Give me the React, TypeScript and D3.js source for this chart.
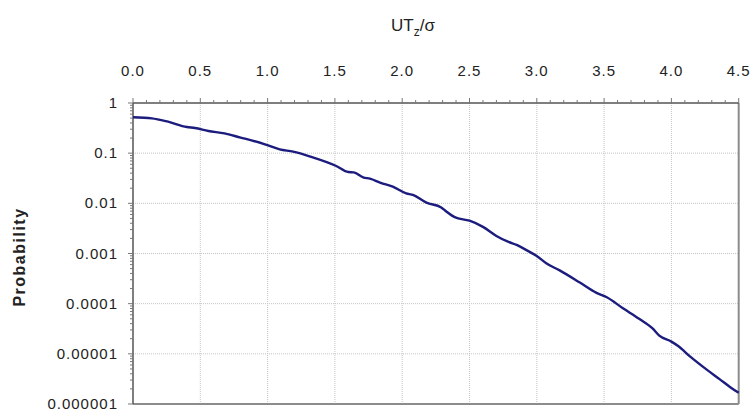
import React from "react";
import * as d3 from "d3";

const xValues = [0, 0.14, 0.26, 0.40, 0.46, 0.56, 0.68, 0.80, 0.88, 0.98, 1.09, 1.19, 1.32, 1.51, 1.60, 1.64, 1.71, 1.76, 1.84, 1.93, 2.03, 2.08, 2.18, 2.29, 2.33, 2.39, 2.50, 2.60, 2.70, 2.79, 2.85, 2.93, 3.00, 3.07, 3.17, 3.32, 3.44, 3.52, 3.64, 3.76, 3.86, 3.91, 4.00, 4.05, 4.14, 4.26, 4.36, 4.44, 4.50];
const probValues = [0.52, 0.495, 0.424, 0.332, 0.318, 0.277, 0.248, 0.204, 0.18, 0.15, 0.119, 0.107, 0.085, 0.0555, 0.042, 0.0415, 0.033, 0.031, 0.0257, 0.0215, 0.0158, 0.0147, 0.0103, 0.0083, 0.0068, 0.0053, 0.0045, 0.0034, 0.00224, 0.0017, 0.00148, 0.00114, 0.00089, 0.00064, 0.00046, 0.000263, 0.000166, 0.000134, 8.1e-5, 5.0e-5, 3.2e-5, 2.3e-5, 1.75e-5, 1.43e-5, 8.8e-6, 4.9e-6, 3.1e-6, 2.14e-6, 1.67e-6];

const xTicks = [0, 0.5, 1, 1.5, 2, 2.5, 3, 3.5, 4, 4.5];
const yTicks = [1, 0.1, 0.01, 0.001, 0.0001, 0.00001, 0.000001];
const yTickLabels = ["1", "0.1", "0.01", "0.001", "0.0001", "0.00001", "0.000001"];

const W = 752, H = 412;
const L = 133, R = 738.7, T = 103, B = 404;

export default function App() {
  const x = d3.scaleLinear().domain([0, 4.5]).range([L, R]);
  const y = d3.scaleLog().domain([1e-6, 1]).range([B, T]);
  const line = d3.line<number>().x((_, i) => x(xValues[i])).y((d) => y(d)).curve(d3.curveMonotoneX);

  const minorX = d3.range(0, 46).map((i) => i / 10);
  const minorY: number[] = [];
  for (let e = -6; e < 0; e++) for (let k = 1; k < 10; k++) minorY.push(k * Math.pow(10, e));

  const font = "Arial, 'Liberation Sans', sans-serif";
  return (
    <svg width={W} height={H} style={{ position: "absolute", left: 0, top: 0, background: "#fff" }}>
      {xTicks.slice(1, -1).map((t) => (
        <line key={"gx" + t} x1={x(t)} x2={x(t)} y1={T} y2={B} stroke="#c4c4c4" strokeDasharray="1,1" />
      ))}
      {yTicks.slice(1, -1).map((t) => (
        <line key={"gy" + t} x1={L} x2={R} y1={y(t)} y2={y(t)} stroke="#c4c4c4" strokeDasharray="1,1" />
      ))}
      <line x1={R} x2={R} y1={T} y2={B} stroke="#8c8c8c" strokeWidth={2} />
      <line x1={L} x2={R} y1={B} y2={B} stroke="#8c8c8c" strokeWidth={2} />
      <line x1={L} x2={R} y1={T} y2={T} stroke="#555" strokeWidth={1.5} />
      <line x1={L} x2={L} y1={T} y2={B} stroke="#555" strokeWidth={1.5} />
      {minorX.map((t, i) => (
        <line key={"tx" + i} x1={x(t)} x2={x(t)} y1={T} y2={T - (i % 5 === 0 ? 5 : 3)} stroke="#777" />
      ))}
      {minorY.map((t, i) => (
        <line key={"ty" + i} x1={L} x2={L - (i % 9 === 0 ? 5 : 3)} y1={y(t)} y2={y(t)} stroke="#777" />
      ))}
      <line x1={L} x2={L - 5} y1={y(1)} y2={y(1)} stroke="#777" />
      {xTicks.map((t) => (
        <text key={"lx" + t} x={x(t)} y={76} textAnchor="middle" fontFamily={font} fontSize={15} letterSpacing={1} fill="#222">
          {t.toFixed(1)}
        </text>
      ))}
      {yTicks.map((t, i) => (
        <text key={"ly" + t} x={118} y={y(t) + 5} textAnchor="end" fontFamily={font} fontSize={15} letterSpacing={1} fill="#222">
          {yTickLabels[i]}
        </text>
      ))}
      <text x={391} y={31} fontFamily={font} fontSize={17} fill="#222">
        UT<tspan fontSize={12} dy={5}>z</tspan><tspan dy={-5}>/σ</tspan>
      </text>
      <text transform={`translate(25,257) rotate(-90)`} textAnchor="middle" fontFamily={font} fontSize={16} fontWeight="bold" letterSpacing={1.5} fill="#222">
        Probability
      </text>
      <path d={line(probValues) || ""} fill="none" stroke="#1c1c7e" strokeWidth={2.4} strokeLinejoin="round" />
    </svg>
  );
}
